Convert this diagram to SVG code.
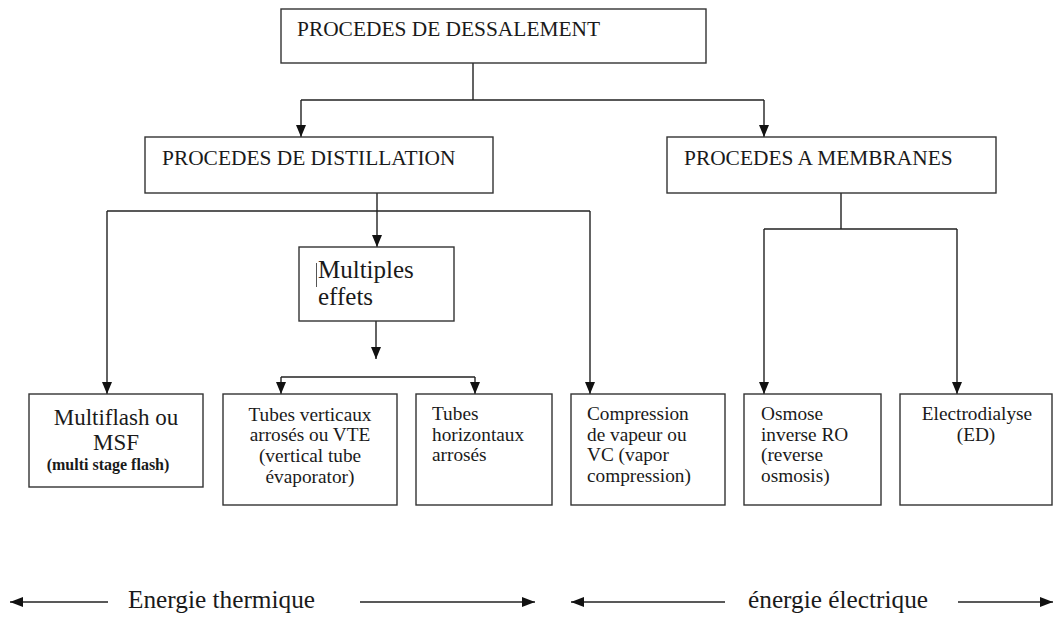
<svg xmlns="http://www.w3.org/2000/svg" width="1054" height="617" viewBox="0 0 1054 617">
<style>
  .box { fill: #ffffff; stroke: #333333; stroke-width: 1.4; }
  .ln { fill: none; stroke: #222222; stroke-width: 1.4; }
  .arr { fill: none; stroke: #222222; stroke-width: 1.4; marker-end: url(#ah); }
  .t { font-family: "Liberation Serif", "Times New Roman", serif; fill: #1a1a1a; }
  .h { font-size: 21.4px; }
  .s { font-size: 19.3px; }
  .m { font-size: 23px; }
  .big { font-size: 25px; }
  .en { font-size: 25.3px; }
  .sb { font-size: 16px; font-weight: bold; }
  .c { text-anchor: middle; }
</style>
<defs>
  <marker id="ah" viewBox="0 0 12 10" refX="12" refY="5" markerWidth="12" markerHeight="10" markerUnits="userSpaceOnUse" orient="auto">
    <path d="M0,0 L12,5 L0,10 z" fill="#111111"/>
  </marker>
  <marker id="ah2" viewBox="0 0 13 10" refX="13" refY="5" markerWidth="13" markerHeight="10" markerUnits="userSpaceOnUse" orient="auto-start-reverse">
    <path d="M0,0 L13,5 L0,10 z" fill="#111111"/>
  </marker>
</defs>

<g id="connectors">
  <path class="ln" d="M473,63 V100 M301,100 H764"/>
  <path class="arr" d="M301,100 V137"/>
  <path class="arr" d="M764,100 V137"/>
  <path class="arr" d="M377,193 V247"/>
  <path class="ln" d="M107,211 H590"/>
  <path class="arr" d="M107,211 V394"/>
  <path class="arr" d="M590,211 V394"/>
  <path class="ln" d="M841,193 V229 M764,229 H957"/>
  <path class="arr" d="M764,229 V394"/>
  <path class="arr" d="M957,229 V394"/>
  <path class="arr" d="M376,321 V359"/>
  <path class="ln" d="M281,377 H475"/>
  <path class="arr" d="M281,377 V394"/>
  <path class="arr" d="M475,377 V394"/>
</g>

<g id="n-dessalement">
  <rect class="box" x="281" y="9" width="425" height="54"/>
  <text class="t h" x="297" y="36">PROCEDES DE DESSALEMENT</text>
</g>
<g id="n-distillation">
  <rect class="box" x="145" y="137" width="348" height="56"/>
  <text class="t h" x="162" y="165">PROCEDES DE DISTILLATION</text>
</g>
<g id="n-membranes">
  <rect class="box" x="667" y="137" width="329" height="56"/>
  <text class="t h" x="684" y="165">PROCEDES A MEMBRANES</text>
</g>
<g id="n-multiples">
  <rect class="box" x="299" y="247" width="155" height="74"/>
  <line x1="316.5" y1="263" x2="316.5" y2="287" stroke="#555555" stroke-width="1"/>
  <text class="t big" x="318" y="278">Multiples</text>
  <text class="t big" x="318" y="305">effets</text>
</g>
<g id="n-msf">
  <rect class="box" x="29" y="394" width="174" height="93"/>
  <text class="t m c" x="116" y="425">Multiflash ou</text>
  <text class="t m c" x="116" y="450">MSF</text>
  <text class="t sb c" x="108" y="470">(multi stage flash)</text>
</g>
<g id="n-vte">
  <rect class="box" x="223" y="394" width="174" height="111"/>
  <text class="t s c" x="310" y="421">Tubes verticaux</text>
  <text class="t s c" x="310" y="441">arrosés ou VTE</text>
  <text class="t s c" x="310" y="462">(vertical tube</text>
  <text class="t s c" x="310" y="483">évaporator)</text>
</g>
<g id="n-horizontaux">
  <rect class="box" x="416" y="394" width="136" height="111"/>
  <text class="t s" x="432" y="420">Tubes</text>
  <text class="t s" x="432" y="441">horizontaux</text>
  <text class="t s" x="432" y="461">arrosés</text>
</g>
<g id="n-vc">
  <rect class="box" x="571" y="394" width="154" height="111"/>
  <text class="t s" x="587" y="420">Compression</text>
  <text class="t s" x="587" y="441">de vapeur ou</text>
  <text class="t s" x="587" y="461">VC (vapor</text>
  <text class="t s" x="587" y="482">compression)</text>
</g>
<g id="n-ro">
  <rect class="box" x="744" y="394" width="137" height="111"/>
  <text class="t s" x="761" y="420">Osmose</text>
  <text class="t s" x="761" y="441">inverse RO</text>
  <text class="t s" x="761" y="461">(reverse</text>
  <text class="t s" x="761" y="482">osmosis)</text>
</g>
<g id="n-ed">
  <rect class="box" x="900" y="394" width="152" height="111"/>
  <text class="t s c" x="977" y="420">Electrodialyse</text>
  <text class="t s c" x="976" y="441">(ED)</text>
</g>

<g id="energie">
  <path class="ln" d="M108,602 H10" marker-end="url(#ah2)"/>
  <path class="ln" d="M360,602 H535" marker-end="url(#ah2)"/>
  <text class="t en" x="128" y="608">Energie thermique</text>
  <path class="ln" d="M725,602 H571" marker-end="url(#ah2)"/>
  <path class="ln" d="M958,602 H1053" marker-end="url(#ah2)"/>
  <text class="t en" x="748" y="608">énergie électrique</text>
</g>
</svg>
